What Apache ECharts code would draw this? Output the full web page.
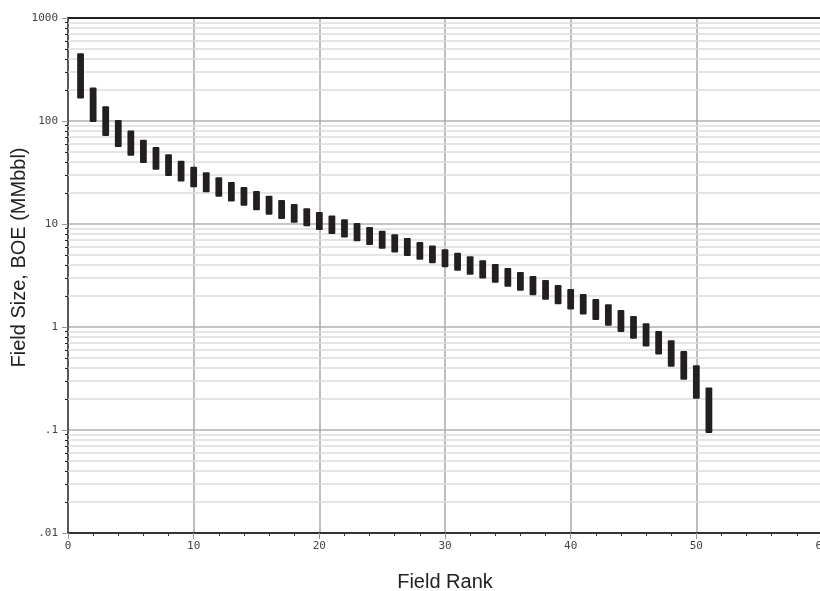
<!DOCTYPE html>
<html>
<head>
<meta charset="utf-8">
<script src="https://cdn.jsdelivr.net/npm/echarts@6/dist/echarts.min.js"></script>
<style>
  html, body { margin: 0; padding: 0; background: #fff; }
  #main { width: 820px; height: 591px; }
</style>
</head>
<body>
<div id="main"></div>
<script>
// 油田排名（横轴）
var ranks = [];
for (var i = 1; i <= 51; i++) ranks.push(i);

// 每个排名的规模区间，单位 MMbbl
var sizeHigh = [454, 212, 139, 102, 81, 65.8, 56, 47.5, 41.2, 36,
  31.8, 28.4, 25.6, 22.9, 20.9, 18.8, 17.1, 15.6, 14.2, 13.1,
  12.1, 11.1, 10.2, 9.35, 8.6, 7.94, 7.3, 6.7, 6.2, 5.7,
  5.26, 4.85, 4.44, 4.1, 3.74, 3.42, 3.13, 2.86, 2.56, 2.34,
  2.09, 1.87, 1.66, 1.46, 1.28, 1.09, 0.914, 0.743, 0.585, 0.425,
  0.258];
var sizeLow = [165, 98, 71.5, 56, 46, 39, 33.7, 29.2, 25.8, 22.7,
  20.3, 18.4, 16.5, 15.0, 13.6, 12.3, 11.2, 10.3, 9.5, 8.75,
  8.0, 7.4, 6.8, 6.25, 5.76, 5.3, 4.9, 4.5, 4.15, 3.8,
  3.52, 3.22, 2.95, 2.69, 2.46, 2.25, 2.03, 1.84, 1.66, 1.48,
  1.32, 1.17, 1.03, 0.893, 0.77, 0.645, 0.54, 0.412, 0.308, 0.201,
  0.0935];

// 纵轴刻度
var yTickValues = [0.01, 0.1, 1, 10, 100, 1000];
var yTickLabels = ['.01', '.1', '1', '10', '100', '1000'];
var yMinorSteps = [2, 3, 4, 5, 6, 7, 8, 9];

var minorValues = [];
for (var d = 0; d < yTickValues.length - 1; d++) {
  for (var k = 0; k < yMinorSteps.length; k++) {
    minorValues.push(+(yTickValues[d] * yMinorSteps[k]).toPrecision(6));
  }
}

var barData = [];
for (var j = 0; j < ranks.length; j++) {
  barData.push([ranks[j], sizeLow[j], sizeHigh[j]]);
}

var chart = echarts.init(document.getElementById('main'));

var tickFont = { fontFamily: 'DejaVu Sans Mono', fontSize: 11, color: '#444' };

var option = {
  animation: false,
  backgroundColor: '#fff',
  grid: {
    left: 68, top: 18, width: 754, height: 515,
    outerBoundsMode: 'none'
  },
  xAxis: [{
    type: 'value', min: 0, max: 60, interval: 10, position: 'bottom',
    name: 'Field Rank', nameLocation: 'middle', nameGap: 39,
    nameTextStyle: { fontFamily: 'Liberation Sans', fontSize: 20, color: '#222' },
    axisLine: { show: true, lineStyle: { color: '#333', width: 2 } },
    axisTick: { show: true, length: 6, lineStyle: { color: '#999' } },
    minorTick: { show: true, splitNumber: 5, length: 3, lineStyle: { color: '#333' } },
    axisLabel: Object.assign({ margin: 8 }, tickFont),
    splitLine: { show: true, lineStyle: { color: '#a9a9a9', width: 1.5 } }
  }, {
    // 顶部边框
    type: 'value', min: 0, max: 60, interval: 10, position: 'top',
    axisLine: { show: true, onZero: false, lineStyle: { color: '#222', width: 1.8 } },
    axisTick: { show: false },
    axisLabel: { show: false },
    splitLine: { show: false }
  }],
  yAxis: [{
    type: 'log', logBase: 10, min: 0.01, max: 1000, position: 'left',
    name: 'Field Size, BOE (MMbbl)', nameLocation: 'middle', nameGap: 39,
    nameMoveOverlap: false,
    nameTextStyle: {
      fontFamily: 'Liberation Sans', fontSize: 20, color: '#222',
      padding: [0, 0, 0, 36]
    },
    axisLine: { show: true, lineStyle: { color: '#333', width: 1.5 } },
    axisTick: { show: true, length: 6, lineStyle: { color: '#999' } },
    axisLabel: Object.assign({
      margin: 10,
      formatter: function (v) {
        var idx = Math.round(Math.log10(v)) + 2;
        return yTickLabels[idx] !== undefined ? yTickLabels[idx] : '';
      }
    }, tickFont),
    splitLine: { show: true, lineStyle: { color: '#c4c4c4', width: 2 } }
  }, {
    // 只用来画次刻度
    type: 'log', logBase: 10, min: 0.01, max: 1000, position: 'left', offset: 0,
    axisLine: { show: false },
    axisLabel: { show: false },
    splitLine: { show: false },
    axisTick: { show: true, length: 3, customValues: minorValues, lineStyle: { color: '#222' } }
  }],
  series: [{
    // 次网格线
    type: 'line',
    data: [],
    z: 1,
    markLine: {
      silent: true,
      symbol: ['none', 'none'],
      label: { show: false },
      lineStyle: { color: '#dddddd', width: 1.5, type: 'solid' },
      data: minorValues.map(function (v) { return { yAxis: v }; })
    }
  }, {
    type: 'custom',
    z: 5,
    data: barData,
    encode: { x: 0, y: [1, 2] },
    renderItem: function (params, api) {
      var x = api.value(0);
      var top = api.coord([x, api.value(2)]);
      var bottom = api.coord([x, api.value(1)]);
      var left = api.coord([x - 0.27, api.value(2)]);
      var right = api.coord([x + 0.27, api.value(2)]);
      return {
        type: 'rect',
        shape: {
          x: left[0], y: top[1],
          width: right[0] - left[0], height: bottom[1] - top[1], r: 1
        },
        style: { fill: '#231f20' }
      };
    }
  }]
};

chart.setOption(option);
</script>
</body>
</html>
